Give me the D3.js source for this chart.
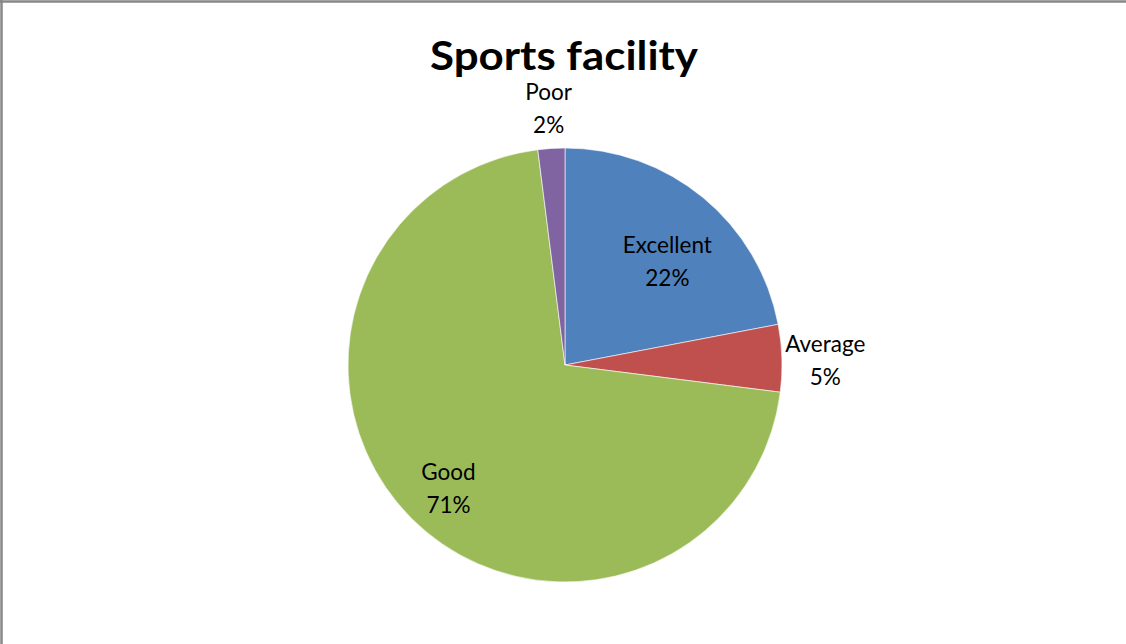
<!DOCTYPE html>
<html>
<head>
<meta charset="utf-8">
<script src="https://cdn.jsdelivr.net/npm/d3@7"></script>
<style>
  body { margin: 0; background: #fff; overflow: hidden; }
  svg { display: block; }
  svg text { font-family: Lato, "Liberation Sans", sans-serif; fill: #000; }
</style>
</head>
<body>
<div id="chart"></div>
<script>
// data
var categories = ["Excellent", "Average", "Good", "Poor"];
var shares = [22, 5, 71, 2];
var sliceColors = ["#4F81BD", "#C0504D", "#9BBB59", "#8064A2"];

var svgWidth = 1126;
var svgHeight = 644;
var cx = 565, cy = 365, radius = 217;

var svg = d3.select("#chart")
  .append("svg")
  .attr("width", svgWidth)
  .attr("height", svgHeight);

// chart frame (only top and left edges are visible)
svg.append("line")
  .attr("x1", 0).attr("y1", 1.5).attr("x2", svgWidth).attr("y2", 1.5)
  .attr("stroke", "#878787").attr("stroke-width", 2.5);
svg.append("line")
  .attr("x1", 1.5).attr("y1", 0).attr("x2", 1.5).attr("y2", svgHeight)
  .attr("stroke", "#878787").attr("stroke-width", 2.5);

// title
svg.append("text")
  .attr("x", 564)
  .attr("y", 70)
  .attr("text-anchor", "middle")
  .attr("font-size", "41px")
  .attr("font-weight", "bold")
  .attr("textLength", 268)
  .attr("lengthAdjust", "spacingAndGlyphs")
  .text("Sports facility");

var data = categories.map(function (c, i) {
  return { name: c, value: shares[i], color: sliceColors[i] };
});

var pie = d3.pie()
  .value(d => d.value)
  .sort(null);

var arc = d3.arc()
  .innerRadius(0)
  .outerRadius(radius);

var pieGroup = svg.append("g")
  .attr("transform", `translate(${cx}, ${cy})`);

var arcs = pie(data);

pieGroup.selectAll("path")
  .data(arcs)
  .enter()
  .append("path")
  .attr("d", arc)
  .attr("fill", d => d.data.color)
  .attr("stroke", "#fff")
  .attr("stroke-width", 0.6);

// label placement: big slices inside, thin ones outside
function labelPos(d) {
  var mid = (d.startAngle + d.endAngle) / 2;
  var frac = d.endAngle - d.startAngle;
  var r = frac < 0.5 ? radius * 1.2 : radius * 0.74;
  var x = Math.sin(mid) * r;
  var y = -Math.cos(mid) * r;
  // small nudges, like Excel's best-fit labels
  if (d.data.name === "Excellent") { y += 17; }
  if (d.data.name === "Good") { x -= 3; y += 6; }
  return [x, y];
}

var labels = pieGroup.selectAll(".lbl")
  .data(arcs)
  .enter()
  .append("text")
  .attr("class", "lbl")
  .attr("text-anchor", "middle")
  .attr("font-size", "22.5px")
  .attr("transform", d => `translate(${labelPos(d)[0]}, ${labelPos(d)[1] + 1})`);

labels.append("tspan")
  .attr("x", 0)
  .attr("y", -6)
  .text(d => d.data.name);

labels.append("tspan")
  .attr("x", 0)
  .attr("y", 27)
  .text(d => d.data.value + "%");
</script>
</body>
</html>
